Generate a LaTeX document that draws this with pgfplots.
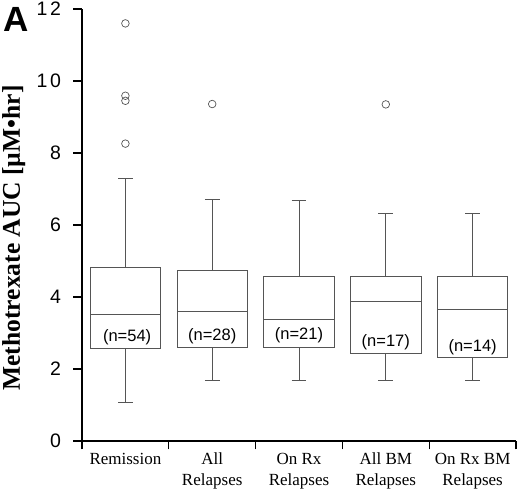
\documentclass[border=0pt]{standalone}
\usepackage{fontspec}
\setmainfont{Liberation Serif}
\setsansfont{Liberation Sans}
\usepackage{pgfplots}
\pgfplotsset{compat=1.18}
\usepgfplotslibrary{statistics}
\usetikzlibrary{calc}
\definecolor{boxgray}{RGB}{85,85,85}
\begin{document}
\begin{tikzpicture}
\begin{axis}[
  name=ax,
  scale only axis,
  width=434pt, height=432pt,
  xmin=-0.5, xmax=4.5, ymin=0, ymax=12,
  axis x line*=bottom, axis y line*=left,
  axis line style={line width=1.3pt, black},
  ytick={0,2,4,6,8,10,12},
  xtick={-0.5,0.5,1.5,2.5,3.5,4.5},
  x tick label as interval,
  xticklabels={Remission, All\\Relapses, On Rx\\Relapses, All BM\\Relapses, On Rx BM\\Relapses},
  tick align=outside,
  major tick length=8.5pt,
  tick style={line width=1.3pt, black},
  /pgf/number format/assume math mode=true,
  yticklabel style={font=\fontsize{19.5}{19.5}\sffamily\addfontfeature{LetterSpace=14}, xshift=-9pt},
  xticklabel style={font=\fontsize{17}{21}\selectfont\rmfamily, align=center},
  ylabel={Methotrexate AUC [µM•hr]},
  ylabel style={font=\fontsize{25.5}{25.5}\selectfont\bfseries, at={(axis description cs:-0.157,0.47)}, anchor=center, rotate=0},
  boxplot/draw direction=y,
  clip=false,
]
\addplot[boxplot prepared={lower whisker=1.06, lower quartile=2.57, median=3.52, upper quartile=4.81, upper whisker=7.30, draw position=0, box extend=0.81, whisker extend=0.17},
  draw=boxgray, line width=0.9pt, mark=o, mark size=3.8pt, mark options={draw=boxgray, line width=0.7pt}]
  table[row sep=\\, y index=0] {11.60\\ 9.59\\ 9.45\\ 8.26\\};
\addplot[boxplot prepared={lower whisker=1.69, lower quartile=2.60, median=3.61, upper quartile=4.75, upper whisker=6.70, draw position=1, box extend=0.81, whisker extend=0.17},
  draw=boxgray, line width=0.9pt, mark=o, mark size=3.8pt, mark options={draw=boxgray, line width=0.7pt}]
  table[row sep=\\, y index=0] {9.36\\};
\addplot[boxplot prepared={lower whisker=1.69, lower quartile=2.59, median=3.38, upper quartile=4.56, upper whisker=6.69, draw position=2, box extend=0.81, whisker extend=0.17},
  draw=boxgray, line width=0.9pt]
  coordinates {};
\addplot[boxplot prepared={lower whisker=1.69, lower quartile=2.44, median=3.87, upper quartile=4.56, upper whisker=6.33, draw position=3, box extend=0.81, whisker extend=0.17},
  draw=boxgray, line width=0.9pt, mark=o, mark size=3.8pt, mark options={draw=boxgray, line width=0.7pt}]
  table[row sep=\\, y index=0] {9.35\\};
\addplot[boxplot prepared={lower whisker=1.69, lower quartile=2.31, median=3.65, upper quartile=4.56, upper whisker=6.33, draw position=4, box extend=0.81, whisker extend=0.17},
  draw=boxgray, line width=0.9pt]
  coordinates {};
\node[font=\fontsize{16.5}{16.5}\sffamily] at (axis cs:0.02,2.87) {(n=54)};
\node[font=\fontsize{16.5}{16.5}\sffamily] at (axis cs:1.0,2.92) {(n=28)};
\node[font=\fontsize{16.5}{16.5}\sffamily] at (axis cs:2.0,2.93) {(n=21)};
\node[font=\fontsize{16.5}{16.5}\sffamily] at (axis cs:3.0,2.74) {(n=17)};
\node[font=\fontsize{16.5}{16.5}\sffamily] at (axis cs:4.0,2.60) {(n=14)};
\end{axis}
\node[font=\fontsize{35}{35}\sffamily\bfseries] at ($(ax.north west)+(-66pt,-10.5pt)$) {A};
\pgfresetboundingbox
\path[use as bounding box] ($(ax.south west)+(-82pt,-50pt)$) rectangle ($(ax.north east)+(4pt,9pt)$);
\end{tikzpicture}
\end{document}
